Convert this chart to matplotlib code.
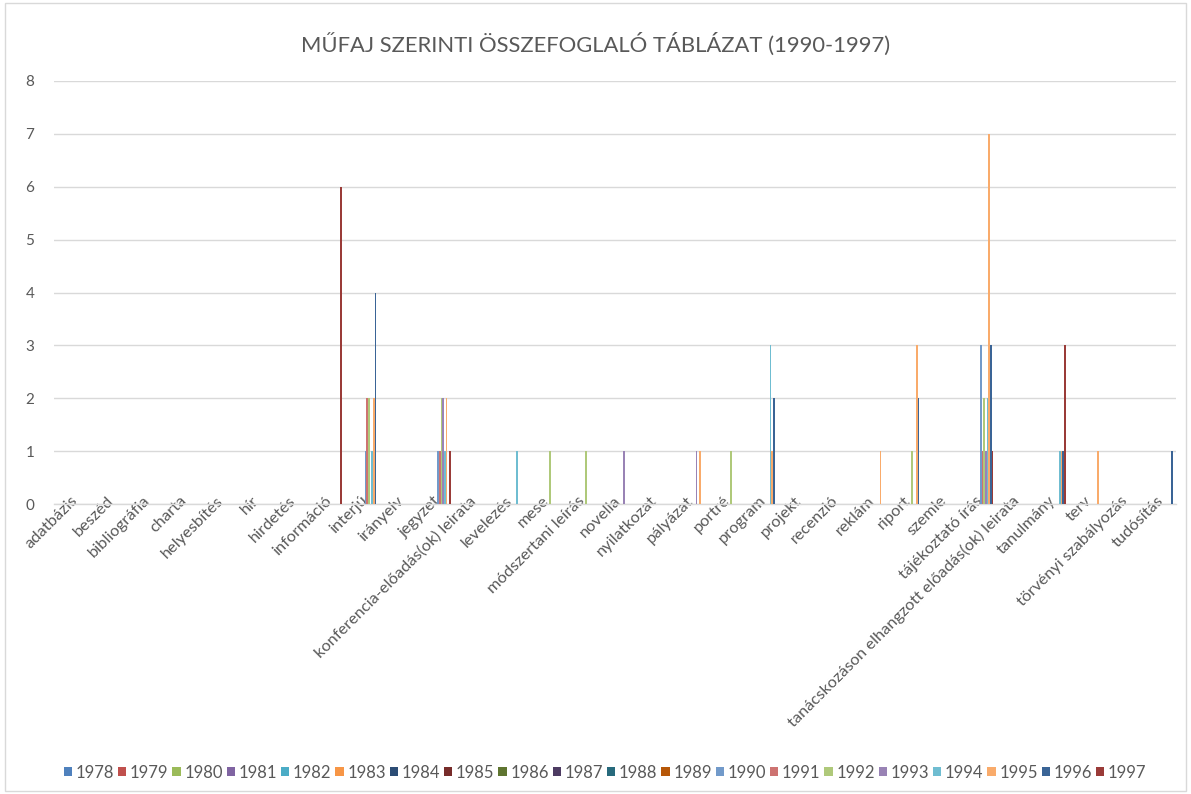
import numpy as np
import matplotlib.pyplot as plt
from matplotlib.patches import Rectangle
from matplotlib.transforms import ScaledTranslation

plt.rcParams['font.family'] = ['Lato', 'DejaVu Sans']

categories = [
    "adatbázis", "beszéd", "bibliográfia", "charta", "helyesbítés", "hír",
    "hirdetés", "információ", "interjú", "irányelv", "jegyzet",
    "konferencia-előadás(ok) leirata", "levelezés", "mese",
    "módszertani leírás", "novella", "nyilatkozat", "pályázat", "portré",
    "program", "projekt", "recenzió", "reklám", "riport", "szemle",
    "tájékoztató írás", "tanácskozáson elhangzott előadás(ok) leirata",
    "tanulmány", "terv", "törvényi szabályozás", "tudósítás",
]

years = list(range(1978, 1998))

# 1978-1989 have no entries in any genre
empty_year = [0] * len(categories)

#          adat besz bibl char hely hír hird info intj irány jegy konf leve mese módsz nove nyil pály port prog proj rec rekl ripo szem tájé tanács tanu terv törv tudó
v1990 = [0, 0, 0, 0, 0, 0, 0, 0, 1, 0, 1, 0, 0, 0, 0, 0, 0, 0, 0, 0, 0, 0, 0, 0, 0, 3, 0, 0, 0, 0, 0]
v1991 = [0, 0, 0, 0, 0, 0, 0, 0, 2, 0, 1, 0, 0, 0, 0, 0, 0, 0, 0, 0, 0, 0, 0, 0, 0, 1, 0, 0, 0, 0, 0]
v1992 = [0, 0, 0, 0, 0, 0, 0, 0, 2, 0, 2, 0, 0, 1, 1, 0, 0, 0, 1, 0, 0, 0, 0, 1, 0, 2, 0, 0, 0, 0, 0]
v1993 = [0, 0, 0, 0, 0, 0, 0, 0, 0, 0, 2, 0, 0, 0, 0, 1, 0, 1, 0, 0, 0, 0, 0, 0, 0, 1, 0, 0, 0, 0, 0]
v1994 = [0, 0, 0, 0, 0, 0, 0, 0, 1, 0, 1, 0, 1, 0, 0, 0, 0, 0, 0, 3, 0, 0, 0, 0, 0, 2, 0, 1, 0, 0, 0]
v1995 = [0, 0, 0, 0, 0, 0, 0, 0, 2, 0, 2, 0, 0, 0, 0, 0, 0, 1, 0, 1, 0, 0, 1, 3, 0, 7, 0, 1, 1, 0, 0]
v1996 = [0, 0, 0, 0, 0, 0, 0, 0, 4, 0, 0, 0, 0, 0, 0, 0, 0, 0, 0, 2, 0, 0, 0, 2, 0, 3, 0, 1, 0, 0, 1]
v1997 = [0, 0, 0, 0, 0, 0, 0, 6, 0, 0, 1, 0, 0, 0, 0, 0, 0, 0, 0, 0, 0, 0, 0, 0, 0, 1, 0, 3, 0, 0, 0]

series = [empty_year] * 12 + [v1990, v1991, v1992, v1993, v1994, v1995, v1996, v1997]

colors = [
    "#4F81BD", "#C0504D", "#9BBB59", "#8064A2", "#4BACC6", "#F79646",
    "#2C4D75", "#772C2A", "#5F7530", "#4D3B62", "#276A7C", "#B65708",
    "#729ACA", "#CD7371", "#AFC97A", "#9983B5", "#6FBDD1", "#F9AB6B",
    "#3A6496", "#9A3B38",
]

grey = "#595959"

fig = plt.figure(figsize=(11.91, 7.94), dpi=100)
ax = fig.add_axes([0.0452, 0.3652, 0.942, 0.5328])

x = np.arange(len(categories))
n = len(years)
bw = 0.0461
for j, (yr, vals) in enumerate(zip(years, series)):
    ax.bar(x + (j - (n - 1) / 2) * bw, vals, width=bw, color=colors[j],
           linewidth=0, label=str(yr), zorder=3)

ax.set_xlim(-0.5, len(categories) - 0.5)
ax.set_ylim(0, 8)
ax.set_yticks(range(0, 9))
ax.grid(axis='y', color="#D9D9D9", linewidth=1, zorder=0)
for s in ["top", "right", "left"]:
    ax.spines[s].set_visible(False)
ax.spines["bottom"].set_color("#D9D9D9")
ax.spines["bottom"].set_linewidth(1)
ax.tick_params(axis='both', length=0, colors=grey)
ax.tick_params(axis='y', pad=14, labelsize=11)
ax.tick_params(axis='x', pad=1, labelsize=11.8)
ax.set_xticks(x)
ax.set_xticklabels(categories, rotation=45, ha='right', rotation_mode='anchor')
# lift the slanted labels so their ends sit level with the axis line
shift = ScaledTranslation(-1 / 100, 12 / 100, fig.dpi_scale_trans)
for lbl in ax.get_xticklabels():
    lbl.set_transform(lbl.get_transform() + shift)

fig.text(0.5, 0.944, "MŰFAJ SZERINTI ÖSSZEFOGLALÓ TÁBLÁZAT (1990-1997)",
         ha='center', va='center', fontsize=15.8, color=grey)

fig.legend(loc='center', bbox_to_anchor=(0.508, 0.027), ncol=20, frameon=False,
           fontsize=12, handlelength=0.5, handleheight=0.5, handletextpad=0.2,
           columnspacing=0.25, labelcolor=grey)

# chart area border
fig.patches.append(Rectangle((0.004, 0.004), 0.992, 0.992, transform=fig.transFigure,
                             fill=False, edgecolor="#D9D9D9", linewidth=1))

fig.savefig("out.png", dpi=100)
